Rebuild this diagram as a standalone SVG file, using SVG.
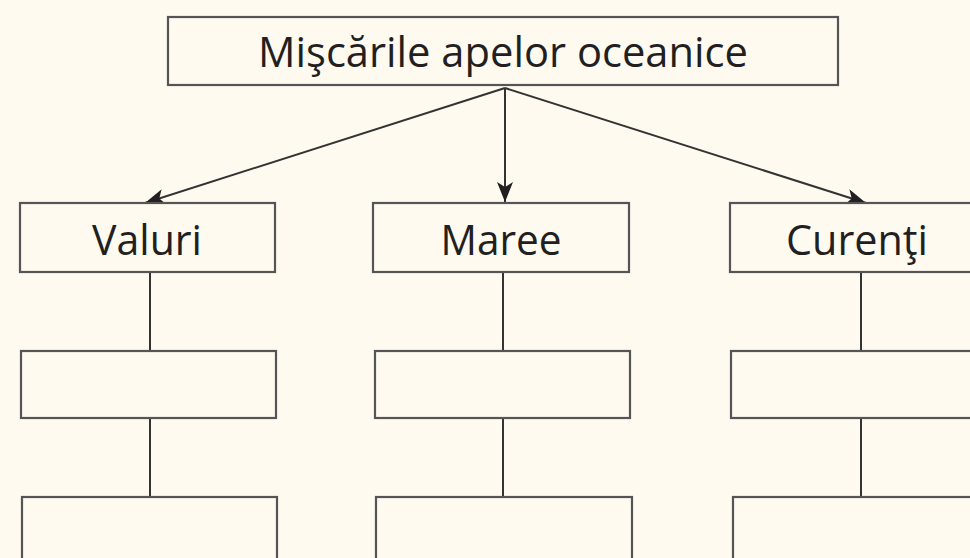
<svg xmlns="http://www.w3.org/2000/svg" width="970" height="558" viewBox="0 0 970 558">
<style>
.box{fill:#fefaf0;stroke:#555;stroke-width:2.2}
.lbl{font-family:"Open Sans","Noto Sans",sans-serif;font-weight:500;fill:#231f20;text-anchor:middle}
.ln{stroke:#333;stroke-width:2;fill:none}
</style>
<defs>
<marker id="ah2" viewBox="0 0 20 16" refX="20" refY="8" markerWidth="20" markerHeight="16" markerUnits="userSpaceOnUse" orient="auto">
<path d="M0,0 L20,8 L0,16 L5,8 z" fill="#231f20"/>
</marker>
</defs>
<rect width="970" height="558" fill="#fefaf0"/>
<g id="connectors">
<line class="ln" x1="505" y1="88" x2="145" y2="203" marker-end="url(#ah2)"/>
<line class="ln" x1="505" y1="88" x2="505" y2="202" marker-end="url(#ah2)"/>
<line class="ln" x1="505" y1="88" x2="866" y2="203" marker-end="url(#ah2)"/>
<line class="ln" x1="150" y1="272" x2="150" y2="351"/>
<line class="ln" x1="150" y1="418" x2="150" y2="497"/>
<line class="ln" x1="503" y1="272" x2="503" y2="351"/>
<line class="ln" x1="503" y1="418" x2="503" y2="497"/>
<line class="ln" x1="861" y1="272" x2="861" y2="351"/>
<line class="ln" x1="861" y1="418" x2="861" y2="497"/>
</g>
<g id="root"><rect class="box" x="168" y="17" width="670" height="68"/><text class="lbl" x="503" y="67" font-size="42" textLength="490" lengthAdjust="spacingAndGlyphs">Mişcările apelor oceanice</text></g>
<g id="valuri"><rect class="box" x="20" y="203" width="255" height="69"/><text class="lbl" x="147" y="255" font-size="42" textLength="110" lengthAdjust="spacingAndGlyphs">Valuri</text></g>
<g id="maree"><rect class="box" x="373" y="203" width="256" height="69"/><text class="lbl" x="501" y="255" font-size="42" textLength="121" lengthAdjust="spacingAndGlyphs">Maree</text></g>
<g id="curenti"><rect class="box" x="730" y="203" width="256" height="69"/><text class="lbl" x="857" y="255" font-size="42" textLength="142" lengthAdjust="spacingAndGlyphs">Curenţi</text></g>
<g id="valuri2"><rect class="box" x="21" y="351" width="255" height="67"/></g>
<g id="maree2"><rect class="box" x="375" y="351" width="255" height="67"/></g>
<g id="curenti2"><rect class="box" x="731" y="351" width="256" height="67"/></g>
<g id="valuri3"><rect class="box" x="22" y="497" width="255" height="80"/></g>
<g id="maree3"><rect class="box" x="376" y="497" width="256" height="80"/></g>
<g id="curenti3"><rect class="box" x="733" y="497" width="256" height="80"/></g>
</svg>
